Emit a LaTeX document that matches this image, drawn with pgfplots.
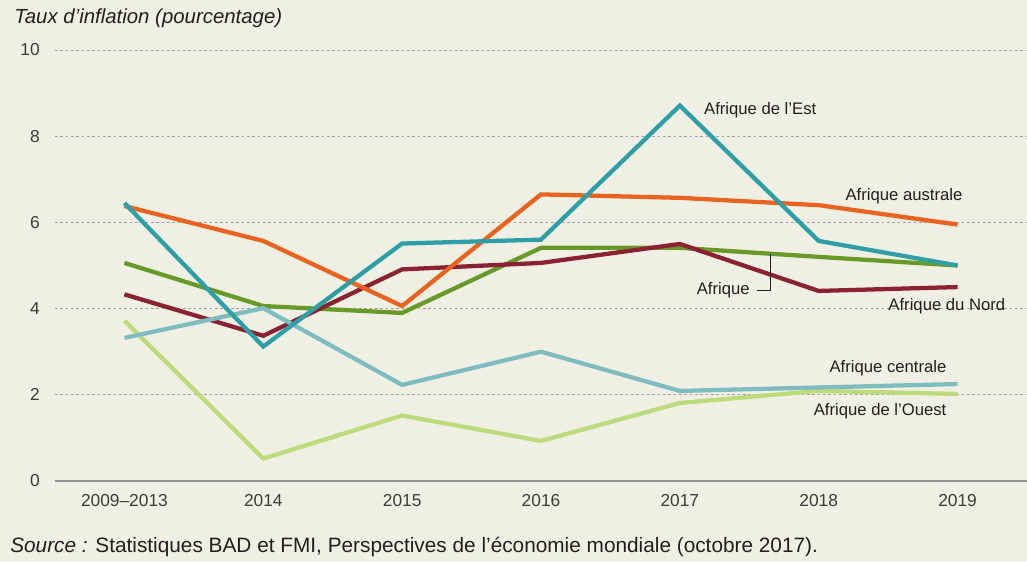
\documentclass[border=0pt]{standalone}
\usepackage{pgfplots}
\pgfplotsset{compat=1.18}
\usepackage{fontspec}
\setmainfont{Liberation Sans}
\definecolor{bg}{RGB}{239,240,227}
\definecolor{cEst}{RGB}{46,159,166}
\definecolor{cAus}{RGB}{232,99,31}
\definecolor{cAfr}{RGB}{104,154,42}
\definecolor{cNord}{RGB}{139,34,50}
\definecolor{cCen}{RGB}{127,188,192}
\definecolor{cOue}{RGB}{188,219,122}
\definecolor{txt}{RGB}{35,31,32}
\definecolor{tick}{RGB}{60,60,60}
\definecolor{gridc}{RGB}{160,160,160}
\begin{document}
\begin{tikzpicture}
\fill[bg] (-41.25pt,-60.75pt) rectangle (729pt,360.75pt);
\begin{axis}[
  at={(0,0)}, anchor=south west,
  scale only axis, width=729pt, height=323.25pt,
  xmin=-0.5, xmax=6.5, ymin=0, ymax=10,
  xtick={0,1,2,3,4,5,6},
  xticklabels={2009–2013,2014,2015,2016,2017,2018,2019},
  ytick={0,2,4,6,8,10},
  ymajorgrids,
  grid style={gridc, line width=0.7pt, dash pattern=on 2pt off 2pt},
  axis line style={draw=none},
  major tick length=0pt,
  tick label style={font=\fontsize{13}{13}\selectfont, color=tick},
  /pgf/number format/assume math mode=true,
  yticklabel style={anchor=east, inner sep=0pt, xshift=-11.25pt},
  xticklabel style={anchor=north, inner sep=0pt, yshift=-9.5pt},
  clip=false,
  every axis plot/.append style={line width=3.2pt, line join=miter, no markers},
]
\draw[gridc!90!black, line width=0.9pt] (axis cs:-0.5,0) -- (axis cs:6.5,0);
% Afrique de l'Ouest
\addplot[cOue] coordinates {(0,3.72) (1,0.52) (2,1.52) (3,0.93) (4,1.81) (5,2.09) (6,2.02)};
% Afrique
\addplot[cAfr] coordinates {(0,5.06) (1,4.06) (2,3.90) (3,5.41) (4,5.41) (5,5.20) (6,5.00)};
% Afrique du Nord
\addplot[cNord] coordinates {(0,4.33) (1,3.37) (2,4.91) (3,5.06) (4,5.50) (5,4.41) (6,4.50)};
% Afrique centrale
\addplot[cCen] coordinates {(0,3.32) (1,4.01) (2,2.23) (3,3.00) (4,2.09) (5,2.17) (6,2.25)};
% Afrique australe
\addplot[cAus] coordinates {(0,6.38) (1,5.57) (2,4.06) (3,6.65) (4,6.57) (5,6.40) (6,5.95)};
% Afrique de l'Est
\addplot[cEst] coordinates {(0,6.45) (1,3.12) (2,5.51) (3,5.60) (4,8.71) (5,5.57) (6,5.00)};

\tikzset{lab/.style={font=\fontsize{12.5}{12.5}\selectfont, text=txt, inner sep=0pt}}
\node[lab, anchor=west] at (axis cs:4.173,8.61) {Afrique de l’Est};
\node[lab, anchor=east] at (axis cs:6.036,6.61) {Afrique australe};
\node[lab, anchor=east] at (axis cs:6.345,4.06) {Afrique du Nord};
\node[lab, anchor=east] at (axis cs:5.921,2.62) {Afrique centrale};
\node[lab, anchor=east] at (axis cs:5.921,1.62) {Afrique de l’Ouest};
\node[lab, anchor=east] at (axis cs:4.504,4.43) {Afrique};
\draw[txt, line width=0.6pt] (axis cs:4.554,4.43) -- (axis cs:4.655,4.43) -- (axis cs:4.655,5.27);
\end{axis}
\node[anchor=west, inner sep=0pt, text=txt, font=\fontsize{15.3}{15.3}\selectfont\itshape] at (-30.75pt,347.25pt) {Taux d’inflation (pourcentage)};
\node[anchor=west, inner sep=0pt, text=txt, font=\fontsize{15.6}{15.6}\selectfont] at (-33.75pt,-49.5pt) {\textit{Source :} Statistiques BAD et FMI, Perspectives de l’économie mondiale (octobre 2017).};
\pgfresetboundingbox
\path[use as bounding box] (-41.25pt,-60.75pt) rectangle (729pt,360.75pt);
\end{tikzpicture}
\end{document}
